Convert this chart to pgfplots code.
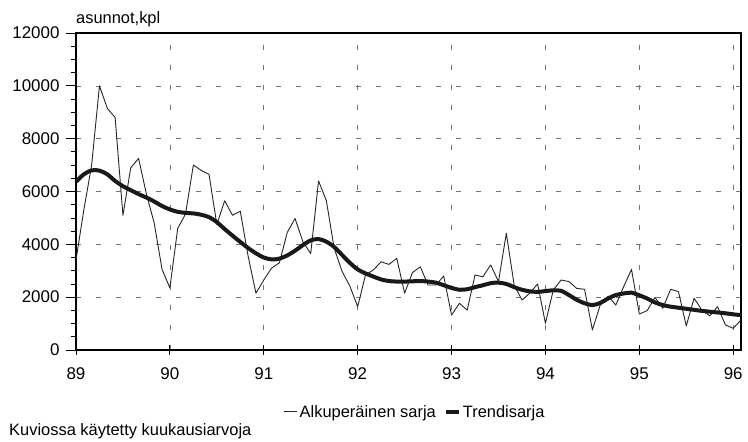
\documentclass[border=0pt]{standalone}
\usepackage{pgfplots}
\pgfplotsset{compat=1.18}
\usepackage{pgfplotstable}
\usepackage{fontspec}
\setmainfont{Liberation Sans}

% m = months since January 1989
\pgfplotstableread{
m v
0 3400
1 5300
2 7000
3 10000
4 9150
5 8800
6 5100
7 6900
8 7250
9 5900
10 4800
11 3050
12 2350
13 4600
14 5150
15 7000
16 6800
17 6650
18 4750
19 5650
20 5100
21 5250
22 3550
23 2150
24 2650
25 3100
26 3300
27 4450
28 4980
29 4100
30 3650
31 6400
32 5650
33 3850
34 2980
35 2420
36 1640
37 2840
38 3030
39 3340
40 3240
41 3470
42 2150
43 2930
44 3150
45 2460
46 2460
47 2800
48 1320
49 1770
50 1510
51 2840
52 2770
53 3220
54 2590
55 4420
56 2460
57 1890
58 2150
59 2500
60 1010
61 2270
62 2650
63 2590
64 2330
65 2300
66 760
67 1700
68 2040
69 1700
70 2400
71 3050
72 1360
73 1490
74 1990
75 1580
76 2300
77 2210
78 910
79 1960
80 1510
81 1290
82 1640
83 950
84 820
85 1140
}\orig

\pgfplotstableread{
m v
0 6370
1 6650
2 6800
3 6790
4 6650
5 6400
6 6200
7 6050
8 5900
9 5770
10 5620
11 5450
12 5320
13 5230
14 5190
15 5170
16 5120
17 5030
18 4840
19 4580
20 4330
21 4090
22 3860
23 3660
24 3500
25 3430
26 3460
27 3580
28 3760
29 3970
30 4150
31 4200
32 4100
33 3900
34 3600
35 3300
36 3050
37 2900
38 2780
39 2670
40 2610
41 2590
42 2590
43 2600
44 2610
45 2590
46 2550
47 2450
48 2350
49 2280
50 2300
51 2380
52 2450
53 2530
54 2550
55 2500
56 2380
57 2280
58 2220
59 2200
60 2230
61 2260
62 2240
63 2080
64 1900
65 1770
66 1700
67 1780
68 1950
69 2080
70 2140
71 2170
72 2070
73 1950
74 1800
75 1700
76 1640
77 1600
78 1560
79 1520
80 1480
81 1450
82 1420
83 1390
84 1350
85 1320
}\trend

\begin{document}
\begin{tikzpicture}[x=1bp,y=1bp]
\path (0,0) rectangle (748,442);
\begin{axis}[
  at={(76bp,92bp)}, anchor=south west,
  scale only axis, width=665bp, height=317bp,
  xmin=89, xmax=96.083, ymin=0, ymax=12000,
  xtick={89,90,...,96},
  ytick={0,2000,...,12000},
  minor ytick={500,1000,...,11500},
  tick pos=left,
  xtick align=center,
  ytick align=outside,
  major tick length=10bp, minor tick length=5bp,
  tick style={black, line width=0.8bp},
  axis line style={line width=1.5bp},
  xmajorgrids, ymajorgrids,
  major grid style={black!55, line width=0.6bp, dash pattern=on 5bp off 15bp},
  scaled ticks=false,
  /pgf/number format/1000 sep={},
  /pgf/number format/assume math mode=true,
  tick label style={font=\fontsize{17}{20}\selectfont},
  xticklabel style={yshift=-9bp},
  yticklabel style={xshift=-3bp},
  legend style={at={(0.51,-0.195)}, anchor=center, draw=none, fill=none,
    legend columns=2, font=\fontsize{16.5}{20}\selectfont,
    /tikz/every even column/.append style={column sep=6bp}},
  legend image code/.code={\draw[#1] (0bp,0bp) -- (13bp,0bp);},
]
\addplot[black!85, line width=0.9bp, line join=round] table[x expr=89+\thisrow{m}/12, y=v] {\orig};
\addlegendentry{Alkuperäinen sarja}
\addplot[black!90, line width=4bp, line join=round, smooth] table[x expr=89+\thisrow{m}/12, y=v] {\trend};
\addlegendentry{Trendisarja}
\end{axis}
\node[anchor=south west, inner sep=0pt, font=\fontsize{16.5}{20}\selectfont] at (76,415) {asunnot,kpl};
\node[anchor=west, inner sep=0pt, font=\fontsize{16.5}{20}\selectfont] at (9,11) {Kuviossa käytetty kuukausiarvoja};
\end{tikzpicture}
\end{document}
